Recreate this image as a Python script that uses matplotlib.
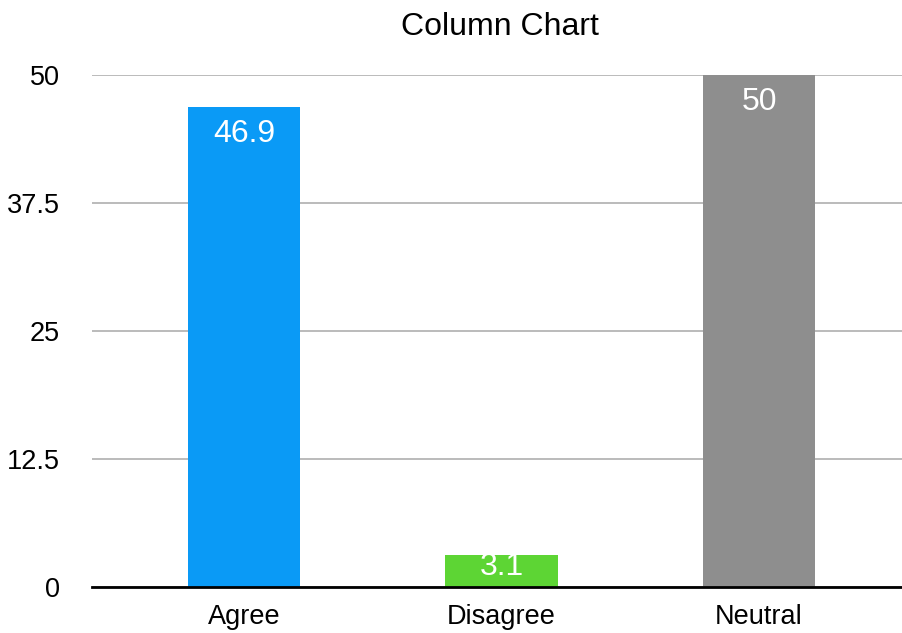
import matplotlib
matplotlib.use("Agg")
import matplotlib.pyplot as plt

categories = ["Agree", "Disagree", "Neutral"]
values = [46.9, 3.1, 50]
labels = ["46.9", "3.1", "50"]
colors = ["#0a9af6", "#5dd534", "#8e8e8e"]
yticks = [0, 12.5, 25, 37.5, 50]
yticklabels = ["0", "12.5", "25", "37.5", "50"]

plt.rcParams['font.family'] = ['Liberation Sans', 'DejaVu Sans']

fig = plt.figure(figsize=(9.03, 6.33), dpi=100)
ax = fig.add_axes([92/903, (633-587)/633, 1 - 92/903, (587-75)/633])

x = list(range(len(categories)))
bars = ax.bar(x, values, width=0.435, color=colors, zorder=3)

ax.set_xlim(-0.590, 2.559)
ax.set_ylim(0, 50)
ax.set_yticks(yticks)
ax.set_yticklabels(yticklabels)
ax.set_xticks(x)
ax.set_xticklabels(categories)
ax.tick_params(axis='both', length=0, labelsize=19.5, colors='black')
ax.tick_params(axis='y', pad=23)
ax.tick_params(axis='x', pad=12)
ax.grid(axis='y', color='#b5b5b5', linewidth=1.3, zorder=1)
for s in ['top', 'right', 'left']:
    ax.spines[s].set_visible(False)
ax.spines['bottom'].set_linewidth(2)
ax.spines['bottom'].set_color('black')
ax.spines['bottom'].set_zorder(4)

# label centre sits a fixed distance below bar top, but never closer to the axis than that
inset = 2.34
half_digit = 1.12
for xi, v, lab in zip(x, values, labels):
    cy = max(v - inset, inset)
    ax.text(xi, cy - half_digit, lab, ha='center', va='baseline',
            color='white', fontsize=23, zorder=5)

fig.text(500/903, 1 - 27/633, "Column Chart", ha='center', va='center', fontsize=23)

fig.savefig("out.png", dpi=100)
